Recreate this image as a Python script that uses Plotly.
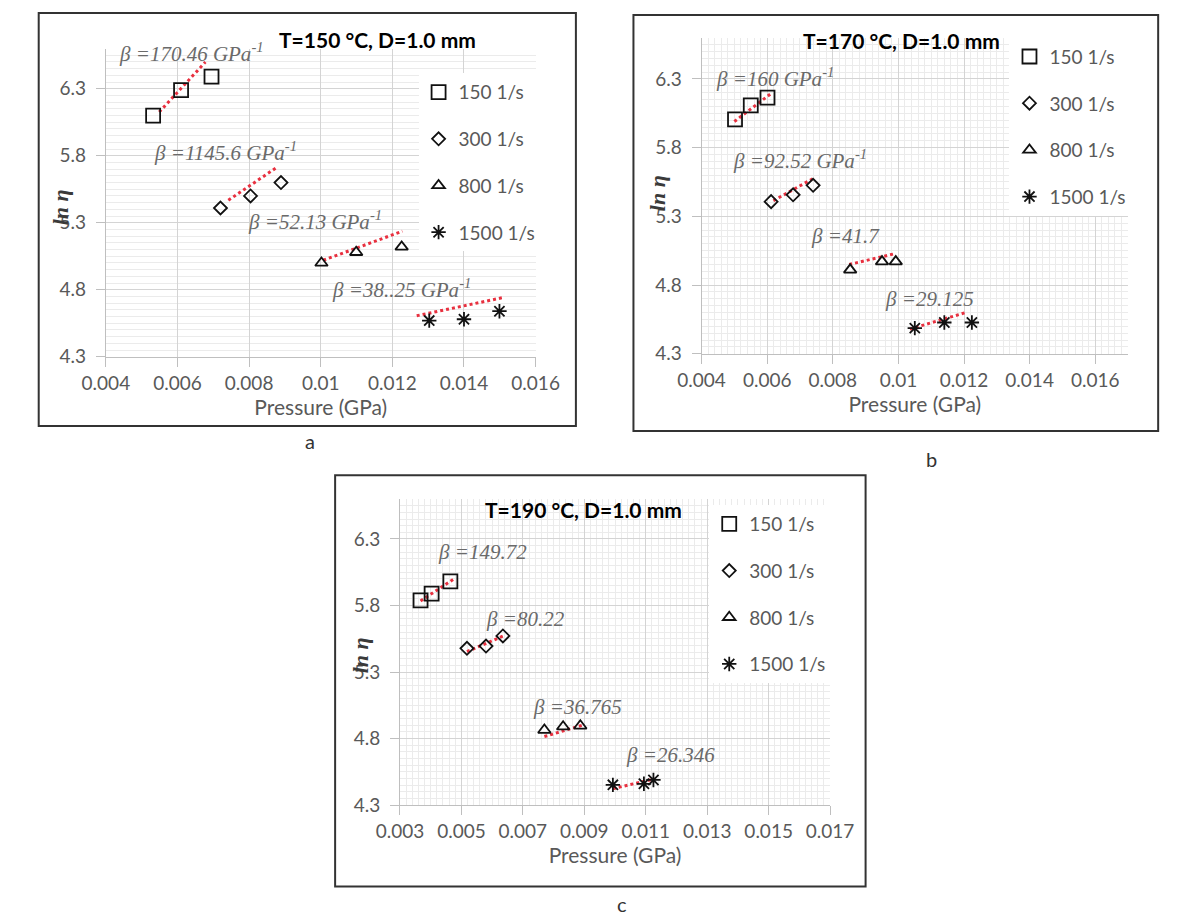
import plotly.graph_objects as go

W, H = 1178, 922

series_names = ["150 1/s", "300 1/s", "800 1/s", "1500 1/s"]

# ---------------- Panel a : T = 150 °C ----------------
a_pressure = [[0.00532, 0.0061, 0.00695], [0.0072, 0.00804, 0.00889],
              [0.01002, 0.01099, 0.01226], [0.01303, 0.0140, 0.01499]]
a_ln_eta = [[6.10, 6.29, 6.39], [5.41, 5.50, 5.60],
            [5.00, 5.08, 5.12], [4.57, 4.58, 4.64]]
a_fit_p = [[0.00549, 0.00678], [0.00742, 0.00876], [0.01007, 0.01228], [0.01268, 0.01506]]
a_fit_ln = [[6.126, 6.499], [5.468, 5.711], [5.02, 5.237], [4.606, 4.74]]
a_beta = ["170.46 GPa<sup>-1</sup>", "1145.6 GPa<sup>-1</sup>", "52.13 GPa<sup>-1</sup>", "38..25 GPa<sup>-1</sup>"]
a_beta_p = [0.0043, 0.00529, 0.00792, 0.01025]
a_beta_ln = [6.57, 5.83, 5.32, 4.81]

# ---------------- Panel b : T = 170 °C ----------------
b_pressure = [[0.00502, 0.0055, 0.00601], [0.00612, 0.00679, 0.0074],
              [0.00853, 0.0095, 0.00992], [0.0105, 0.0114, 0.01224]]
b_ln_eta = [[6.005, 6.108, 6.163], [5.407, 5.457, 5.526],
            [4.911, 4.971, 4.971], [4.487, 4.528, 4.528]]
b_fit_p = [[0.0050, 0.0061], [0.00619, 0.00745], [0.0085, 0.00992], [0.01035, 0.01205]]
b_fit_ln = [[5.99, 6.19], [5.414, 5.582], [4.95, 5.03], [4.48, 4.60]]
b_beta = ["160 GPa<sup>-1</sup>", "92.52 GPa<sup>-1</sup>", "41.7", "29.125"]
b_beta_p = [0.00438, 0.0049, 0.00729, 0.00953]
b_beta_ln = [6.31, 5.71, 5.16, 4.70]

# ---------------- Panel c : T = 190 °C ----------------
c_pressure = [[0.00367, 0.00403, 0.00464], [0.00518, 0.0058, 0.00635],
              [0.0077, 0.00831, 0.00887], [0.00993, 0.01094, 0.01125]]
c_ln_eta = [[5.839, 5.89, 5.981], [5.478, 5.495, 5.571],
            [4.864, 4.889, 4.896], [4.452, 4.46, 4.489]]
c_fit_p = [[0.00367, 0.00479], [0.00518, 0.00641], [0.0077, 0.00893], [0.00993, 0.01127]]
c_fit_ln = [[5.834, 6.005], [5.453, 5.576], [4.815, 4.90], [4.423, 4.496]]
c_beta = ["149.72", "80.22", "36.765", "26.346"]
c_beta_p = [0.00417, 0.00574, 0.00725, 0.0103]
c_beta_ln = [6.20, 5.70, 5.036, 4.68]

titles = ["T=150 °C, D=1.0 mm", "T=170 °C, D=1.0 mm", "T=190 °C, D=1.0 mm"]
captions = ["a", "b", "c"]

# ---------------- styling / layout ----------------
symbols = ["square-open", "diamond-open", "triangle-up-open", "asterisk-open"]
msizes = [14, 10, 11, 12]
GREY = "#595959"
BETA_GREY = "#6a6a6a"
SANS = "Lato, 'Open Sans', sans-serif"
SERIF = "'Liberation Serif', 'DejaVu Serif', serif"

def px(x):
    return x / W

def py(y):
    return 1 - y / H

panels = [
    dict(P=a_pressure, L=a_ln_eta, FP=a_fit_p, FL=a_fit_ln, B=a_beta, BP=a_beta_p, BL=a_beta_ln,
         xpx=(77, 525), ypx=(353, 41), xr=(0.004, 0.016), tick0=0.004, minorx=False,
         frame=(7, 5, 567, 423), tpx=(360, 32), legpx=(403, 66), ylab=(30, 202), cap=(290, 438)),
    dict(P=b_pressure, L=b_ln_eta, FP=b_fit_p, FL=b_fit_ln, B=b_beta, BP=b_beta_p, BL=b_beta_ln,
         xpx=(698, 1142.6), ypx=(350, 30), xr=(0.004, 0.017), tick0=0.004, minorx=True,
         frame=(627, 7, 1174, 428), tpx=(906, 33), legpx=(1019, 30), ylab=(652, 187), cap=(938, 456)),
    dict(P=c_pressure, L=c_ln_eta, FP=c_fit_p, FL=c_fit_ln, B=c_beta, BP=c_beta_p, BL=c_beta_ln,
         xpx=(383.6, 832), ypx=(806.7, 497), xr=(0.003, 0.017), tick0=0.003, minorx=True,
         frame=(316, 473, 869, 889), tpx=(575, 508), legpx=(706, 503), ylab=(342, 655), cap=(615, 907)),
]

fig = go.Figure()
annotations = []
shapes = []
layout_axes = {}

for i, pn in enumerate(panels):
    n = "" if i == 0 else str(i + 1)
    xa, ya = "x" + n, "y" + n
    leg = "legend" + n
    for s in range(4):
        fig.add_trace(go.Scatter(
            x=pn["FP"][s], y=pn["FL"][s], mode="lines", xaxis=xa, yaxis=ya,
            line=dict(color="#e8303f", width=3, dash="dot"), showlegend=False, hoverinfo="skip"))
    for s in range(4):
        fig.add_trace(go.Scatter(
            x=pn["P"][s], y=pn["L"][s], mode="markers", name=series_names[s],
            xaxis=xa, yaxis=ya, legend=leg, legendgroup=f"{i}-{s}",
            marker=dict(symbol=symbols[s], size=msizes[s], color="#111111",
                        line=dict(color="#111111", width=1.8))))
    # beta labels
    for s in range(4):
        annotations.append(dict(
            x=pn["BP"][s], y=pn["BL"][s], xref=xa, yref=ya, xanchor="left", yanchor="middle",
            text="β =" + pn["B"][s], showarrow=False,
            font=dict(family=SERIF, size=21, color=BETA_GREY, style="italic")))
    # panel title
    annotations.append(dict(x=px(pn["tpx"][0]), y=py(pn["tpx"][1]), xref="paper", yref="paper",
                            xanchor="center", yanchor="middle", text=titles[i],
                            showarrow=False,
                            font=dict(family=SANS, size=21, color="#000000", weight="bold")))
    # y label
    annotations.append(dict(x=px(pn["ylab"][0]), y=py(pn["ylab"][1]), xref="paper", yref="paper",
                            xanchor="center", yanchor="middle", text="ln η", textangle=-90,
                            showarrow=False,
                            font=dict(family=SERIF, size=22, color="#3a3a3a", style="italic", weight="bold")))
    # caption
    annotations.append(dict(x=px(pn["cap"][0]), y=py(pn["cap"][1]), xref="paper", yref="paper",
                            xanchor="center", yanchor="middle", text=captions[i],
                            showarrow=False, font=dict(family=SANS, size=20, color="#333333")))
    # frame
    fx0, fy0, fx1, fy1 = pn["frame"]
    shapes.append(dict(type="rect", xref="paper", yref="paper", x0=px(fx0), x1=px(fx1),
                       y0=py(fy1), y1=py(fy0), line=dict(color="#333333", width=2), layer="above"))

    layout_axes["xaxis" + n] = dict(
        domain=[px(pn["xpx"][0]), px(pn["xpx"][1])], range=list(pn["xr"]), anchor=ya,
        tick0=pn["tick0"], dtick=0.002, tickformat="~g", showgrid=True, gridcolor="#d4d4d4",
        gridwidth=1, zeroline=False, showline=True, linecolor="#bfbfbf", linewidth=1,
        ticks="outside", ticklen=9, tickcolor="#bfbfbf",
        tickfont=dict(family=SANS, size=19, color=GREY),
        title=dict(text="Pressure (GPa)", font=dict(family=SANS, size=21, color=GREY), standoff=6),
        minor=dict(dtick=0.0002, tick0=pn["tick0"], showgrid=pn["minorx"], gridcolor="#ebebeb", ticks=""),
        layer="below traces")
    layout_axes["yaxis" + n] = dict(
        domain=[py(pn["ypx"][0]), py(pn["ypx"][1])], range=[4.3, 6.6], anchor=xa,
        tick0=4.3, dtick=0.5, tickformat=".1f", showgrid=True, gridcolor="#d4d4d4", gridwidth=1,
        zeroline=False, showline=True, linecolor="#bfbfbf", linewidth=1,
        ticks="outside", ticklen=9, tickcolor="#bfbfbf", ticklabelstandoff=6,
        tickfont=dict(family=SANS, size=19, color=GREY),
        minor=dict(dtick=0.05, tick0=4.3, showgrid=True, gridcolor="#ebebeb", ticks=""),
        layer="below traces")
    layout_axes[leg] = dict(
        x=px(pn["legpx"][0]), y=py(pn["legpx"][1]), xanchor="left", yanchor="top",
        bgcolor="white", borderwidth=0, font=dict(family=SANS, size=19, color=GREY),
        tracegroupgap=19, itemwidth=30, traceorder="grouped")

fig.update_layout(
    width=W, height=H, margin=dict(l=0, r=0, t=0, b=0),
    paper_bgcolor="white", plot_bgcolor="white",
    annotations=annotations, shapes=shapes, **layout_axes)

fig.write_html("out.html")
